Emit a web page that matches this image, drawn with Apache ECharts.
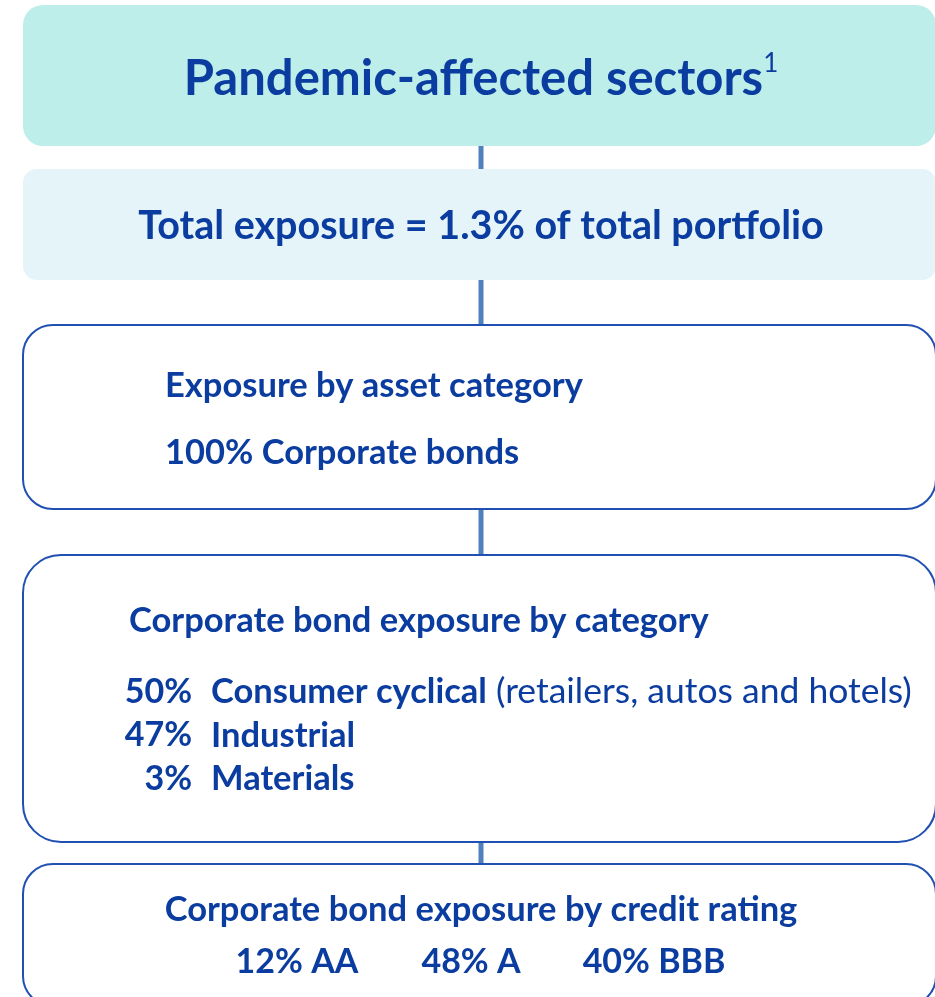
<!DOCTYPE html>
<html>
<head>
<meta charset="utf-8" />
<title>Pandemic-affected sectors</title>
<style>
  html, body { margin: 0; padding: 0; background: #fff; }
  #main { width: 935px; height: 997px; }
</style>
</head>
<body>
<div id="main"></div>
<script src="https://cdn.jsdelivr.net/npm/echarts@6/dist/echarts.min.js"></script>
<script type="text/javascript">
// chart text / values
var headline = 'Pandemic-affected sectors';
var footnoteMark = '1';
var totalExposure = 'Total exposure = 1.3% of total portfolio';
var assetHeading = 'Exposure by asset category';
var assetShares = ['100% Corporate bonds'];
var sectorHeading = 'Corporate bond exposure by category';
var sectorPct = ['50%', '47%', '3%'];
var sectorNames = ['Consumer cyclical', 'Industrial', 'Materials'];
var sectorNotes = ['(retailers, autos and hotels)', '', ''];
var ratingHeading = 'Corporate bond exposure by credit rating';
var ratingPct = ['12%', '48%', '40%'];
var ratingNames = ['AA', 'A', 'BBB'];

var FONT = 'Lato, "Open Sans", sans-serif';
var BLUE = '#0b3c9f';
var LINE = '#4f81bd';
var BORDER = '#1f50b2';
var BODY = 34.5;

// box layout (top, height, radius, fill, stroke)
var boxes = [
  { y: 5,   h: 141, r: 20, fill: '#bdeeea', stroke: null },
  { y: 169, h: 111, r: 14, fill: '#e4f4f9', stroke: null },
  { y: 325, h: 184, r: 30, fill: '#ffffff', stroke: BORDER },
  { y: 555, h: 287, r: 38, fill: '#ffffff', stroke: BORDER },
  { y: 864, h: 142, r: 30, fill: '#ffffff', stroke: BORDER }
];
var boxX = 23, boxW = 913, midX = 481;

var g = [];

// connectors
for (var i = 0; i < boxes.length - 1; i++) {
  g.push({
    type: 'line', z: 1,
    shape: { x1: midX, y1: boxes[i].y + boxes[i].h, x2: midX, y2: boxes[i + 1].y },
    style: { stroke: LINE, lineWidth: 5 }
  });
}

boxes.forEach(function (b) {
  g.push({
    type: 'rect', z: 2,
    shape: { x: boxX, y: b.y, width: boxW, height: b.h, r: b.r },
    style: { fill: b.fill, stroke: b.stroke || 'none', lineWidth: b.stroke ? 2 : 0 }
  });
});

function txt(x, y, text, size, align, rich) {
  var o = {
    type: 'text', z: 3,
    style: {
      x: x, y: y, text: text, fill: BLUE,
      fontFamily: FONT, fontWeight: 'bold', fontSize: size,
      align: align || 'left', verticalAlign: 'middle'
    }
  };
  if (rich) o.style.rich = rich;
  return o;
}

// box 1
g.push(txt(midX, 79, '{h|' + headline + '}{s|' + footnoteMark + '}', 49, 'center', {
  h: { fontFamily: FONT, fontWeight: 'bold', fontSize: 49, fill: BLUE, lineHeight: 56 },
  s: { fontFamily: FONT, fontWeight: 'normal', fontSize: 26, fill: BLUE, lineHeight: 56, verticalAlign: 'top' }
}));

// box 2
g.push(txt(midX, 226, totalExposure, 39.5, 'center'));

// box 3
g.push(txt(165, 386, assetHeading, BODY));
assetShares.forEach(function (s, k) {
  g.push(txt(165, 453 + k * 44, s, BODY));
});

// box 4
g.push(txt(129, 621, sectorHeading, BODY));
sectorPct.forEach(function (p, k) {
  var y = 692 + k * 43.5;
  g.push(txt(192, y, p, 34, 'right'));
  var t = '{b|' + sectorNames[k] + '}' + (sectorNotes[k] ? '{n| ' + sectorNotes[k] + '}' : '');
  g.push(txt(211, y, t, BODY, 'left', {
    b: { fontFamily: FONT, fontWeight: 'bold', fontSize: BODY, fill: BLUE },
    n: { fontFamily: FONT, fontWeight: 'normal', fontSize: 35.5, fill: BLUE }
  }));
});

// box 5
g.push(txt(midX, 910, ratingHeading, BODY, 'center'));
var ratingX = [297, 471, 654];
ratingPct.forEach(function (p, k) {
  g.push(txt(ratingX[k], 962, p + ' ' + ratingNames[k], 34, 'center'));
});

var myChart = echarts.init(document.getElementById('main'));
myChart.setOption({
  backgroundColor: '#ffffff',
  animation: false,
  graphic: { elements: g }
});
</script>
</body>
</html>
